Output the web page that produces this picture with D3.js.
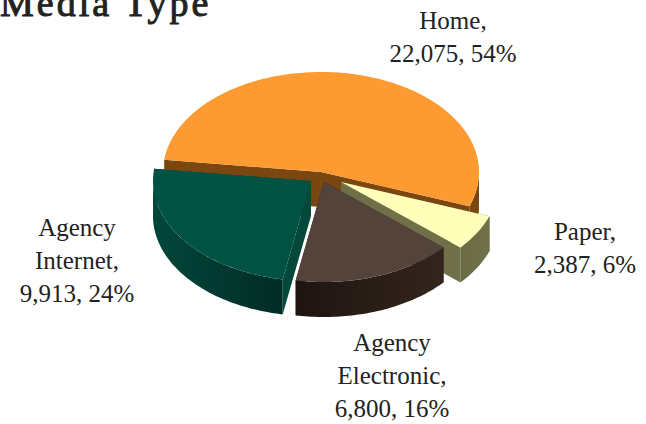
<!DOCTYPE html>
<html>
<head>
<meta charset="utf-8">
<script src="https://cdn.jsdelivr.net/npm/d3@7/dist/d3.min.js"></script>
<style>
  html, body { margin: 0; padding: 0; background: #fff; }
  svg { display: block; }
  text { font-family: "Liberation Serif", serif; fill: #222; }
</style>
</head>
<body>
<svg id="chart" width="646" height="424"></svg>
<script>
// Volume by media type
const categories = ["Home", "Paper", "Agency Electronic", "Agency Internet"];
const values = [22075, 2387, 6800, 9913];
const percents = [54, 6, 16, 24];
const labelLines = [["Home,"], ["Paper,"], ["Agency", "Electronic,"], ["Agency", "Internet,"]];
const explodeX = [0, 20, 3, -10];
const explodeY = [0, 10, 10, 9];

const topColors = ["#fd9a31", "#ffffb9", "#54433a", "#005243"];
const faceColors = ["#7a4710", "#6f7048", "#2a1d16", "#03483a"];
const wallNear = ["#7a4710", "#70714a", "#33251c", "#02463a"];
const wallFar = ["#7a4710", "#6a6b45", "#1e1511", "#012c26"];

const cx = 321, cy = 172, rx = 158, ry = 100, depth = 35;
const startAngle = -83 * Math.PI / 180;

const svg = d3.select("#chart");
const defs = svg.append("defs");

const pie = d3.pie().sort(null).startAngle(startAngle).endAngle(startAngle + 2 * Math.PI);
const arcs = pie(values);
const line = d3.line();

// Screen position of a polar point on the tilted disc
const project = (angle, radius, i, drop) => [
  cx + explodeX[i] + Math.sin(angle) * radius * rx,
  cy + explodeY[i] - Math.cos(angle) * radius * ry + drop
];

const arcPoints = (a0, a1, i, drop) => {
  const n = Math.max(2, Math.ceil((a1 - a0) / 0.02));
  return d3.range(n + 1).map(k => project(a0 + (a1 - a0) * k / n, 1, i, drop));
};

// Slices are painted back to front so nearer ones cover the cut faces behind them
arcs.forEach((d, i) => {
  const apex = project(0, 0, i, 0);
  const apexLow = project(0, 0, i, depth);
  const g = svg.append("g").attr("class", "slice");

  // Radial cut faces
  [d.startAngle, d.endAngle].forEach(a => {
    const rim = project(a, 1, i, 0);
    const rimLow = project(a, 1, i, depth);
    g.append("path")
      .attr("d", line([apex, rim, rimLow, apexLow]) + "Z")
      .attr("fill", faceColors[i]);
  });

  // Outer wall: only the part facing the viewer
  const a0 = Math.max(d.startAngle, Math.PI / 2);
  const a1 = Math.min(d.endAngle, 3 * Math.PI / 2);
  if (a1 > a0) {
    const id = "wall" + i;
    const [x0, x1] = d3.extent([project(a0, 1, i, 0)[0], project(a1, 1, i, 0)[0]]);
    const grad = defs.append("linearGradient").attr("id", id)
      .attr("gradientUnits", "userSpaceOnUse")
      .attr("x1", x0).attr("x2", x1).attr("y1", 0).attr("y2", 0);
    grad.append("stop").attr("offset", 0).attr("stop-color", i === 3 ? wallNear[i] : wallFar[i]);
    grad.append("stop").attr("offset", 1).attr("stop-color", i === 3 ? wallFar[i] : wallNear[i]);
    const upper = arcPoints(a0, a1, i, 0);
    const lower = arcPoints(a0, a1, i, depth).reverse();
    g.append("path")
      .attr("d", line(upper.concat(lower)) + "Z")
      .attr("fill", "url(#" + id + ")");
  }

  // Top surface
  g.append("path")
    .attr("d", line([apex].concat(arcPoints(d.startAngle, d.endAngle, i, 0))) + "Z")
    .attr("fill", topColors[i]);
});

// Title
svg.append("text")
  .attr("x", 0).attr("y", 16)
  .attr("font-size", 38)
  .attr("letter-spacing", 3)
  .attr("stroke", "#222").attr("stroke-width", 1)
  .text("Media Type");

// Data labels
const labelAnchors = [
  { x: 453, y: 29 },
  { x: 585, y: 240 },
  { x: 392, y: 351 },
  { x: 77, y: 236 }
];
const lineGap = 33;
const fmt = d3.format(",");

categories.forEach((c, i) => {
  const lines = labelLines[i].concat(fmt(values[i]) + ", " + percents[i] + "%");
  const t = svg.append("text")
    .attr("text-anchor", "middle")
    .attr("font-size", 25);
  lines.forEach((s, k) => {
    t.append("tspan")
      .attr("x", labelAnchors[i].x)
      .attr("y", labelAnchors[i].y + k * lineGap)
      .text(s);
  });
});
</script>
</body>
</html>
